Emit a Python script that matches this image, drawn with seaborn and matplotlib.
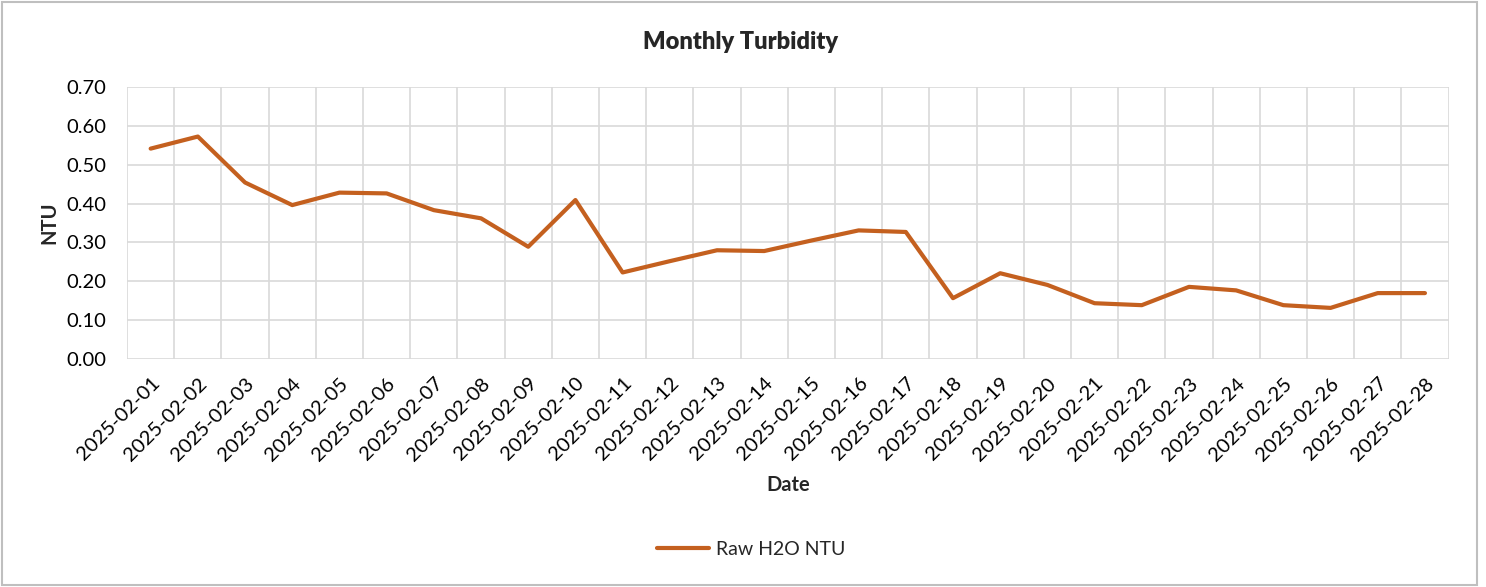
import pandas as pd
import matplotlib.pyplot as plt
import seaborn as sns
from matplotlib.ticker import FixedLocator, NullFormatter
from matplotlib.patches import Rectangle

# Daily readings, February 2025
dates = [f"2025-02-{d:02d}" for d in range(1, 29)]
ntu = [0.541, 0.572, 0.454, 0.396, 0.428, 0.426, 0.383, 0.362, 0.289, 0.409,
       0.223, 0.252, 0.280, 0.278, 0.305, 0.331, 0.327, 0.157, 0.221, 0.191,
       0.144, 0.139, 0.186, 0.177, 0.139, 0.132, 0.170, 0.170]
series_name = "Raw H2O NTU"

df = pd.DataFrame({"Date": dates, "NTU": ntu})

sns.set_style("white")
plt.rcParams["font.family"] = ["Lato", "DejaVu Sans"]

line_color = "#C4601F"
grid_color = "#D9D9D9"

fig = plt.figure(figsize=(14.86, 5.87), dpi=100)
ax = fig.add_axes([0.0855, 0.3879, 0.8893, 0.4644])

sns.lineplot(data=df, x="Date", y="NTU", ax=ax, color=line_color,
             linewidth=3, label=series_name, legend=False)

n = len(dates)
ax.set_xlim(-0.5, n - 0.5)
ax.set_ylim(0, 0.70)
ax.set_yticks([i / 10 for i in range(8)])
ax.set_yticklabels([f"{i / 10:.2f}" for i in range(8)])

# gridlines on category boundaries, labels on category centres
ax.xaxis.set_minor_locator(FixedLocator([i - 0.5 for i in range(n + 1)]))
ax.xaxis.set_minor_formatter(NullFormatter())
ax.set_xticks(range(n))
ax.set_xticklabels(dates, rotation=45, ha="right", rotation_mode="anchor")
ax.grid(False)
ax.grid(True, which="minor", axis="x", color=grid_color, linewidth=1.2)
ax.grid(True, which="major", axis="y", color=grid_color, linewidth=1.2)
ax.set_axisbelow(True)
for s in ax.spines.values():
    s.set_visible(False)

ax.tick_params(axis="x", which="major", length=0, pad=11, labelsize=14.5, colors="black")
ax.tick_params(axis="x", which="minor", length=7, width=1.2, color=grid_color, direction="out")
ax.tick_params(axis="y", length=7, width=1.2, color=grid_color, pad=8,
               labelsize=14.5, labelcolor="black")

ax.set_xlabel("Date", fontsize=14.5, fontweight="bold", labelpad=8)
ax.set_ylabel("NTU", fontsize=14.5, fontweight="bold", labelpad=5)
fig.suptitle("Monthly Turbidity", x=0.4985, y=0.947, fontsize=17, fontweight="heavy")

handles, labels = ax.get_legend_handles_labels()
fig.legend(handles, labels, loc="center", bbox_to_anchor=(0.5055, 0.0647),
           frameon=False, fontsize=14, handlelength=2.7, handletextpad=0.35)

# chart border
fig.patches.append(Rectangle((0.0015, 0.003), 0.9925, 0.994, transform=fig.transFigure,
                             fill=False, edgecolor="#BFBFBF", linewidth=1.5))

fig.savefig("out.png", dpi=100)
